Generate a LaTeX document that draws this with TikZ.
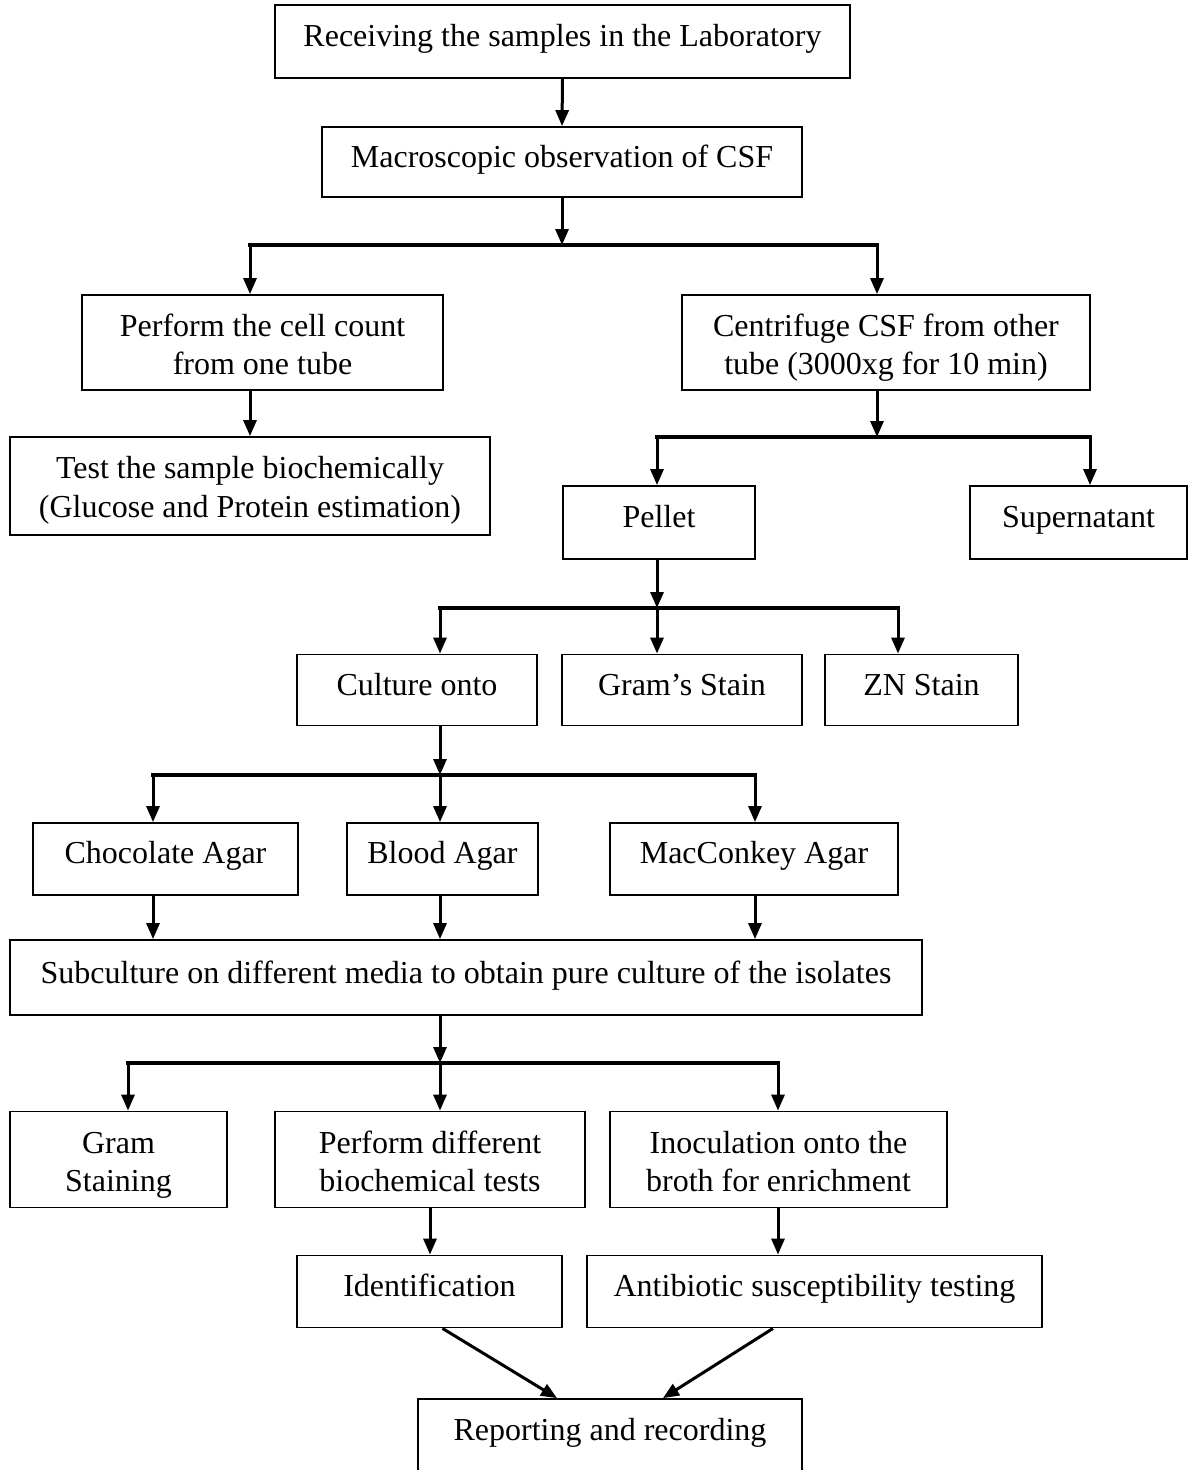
\documentclass[tikz,border=0pt]{standalone}
\usepackage{fontspec}
\setmainfont{Liberation Serif}
\usetikzlibrary{arrows.meta}
\begin{document}
\begin{tikzpicture}[x=1pt,y=-1pt,
  box/.style={draw, line width=1.8pt, align=center, inner sep=0pt,
    font=\fontsize{32}{38.5}\selectfont},
  arr/.style={line width=3pt, -{Triangle[length=16pt,width=13pt]}},
  bar/.style={line width=4.2pt, line cap=rect}]
\useasboundingbox (0,0) rectangle (1189,1470);

% nodes
\node[box, minimum width=575pt, minimum height=73pt, text height=25pt, text depth=15pt] (recv) at (562.5,41.5) {Receiving the samples in the Laboratory};
\node[box, minimum width=480pt, minimum height=70pt, text height=25.5pt, text depth=14.5pt] (macro) at (562,162) {Macroscopic observation of CSF};
\node[box, minimum width=361pt, minimum height=95pt, text height=74pt, text depth=10pt] (cell) at (262.5,342.5) {Perform the cell count\\from one tube};
\node[box, minimum width=408pt, minimum height=95pt, text height=74pt, text depth=10pt] (centri) at (886,342.5) {Centrifuge CSF from other\\tube (3000xg for 10 min)};
\node[box, minimum width=480pt, minimum height=98pt, text height=72pt, text depth=10pt] (test) at (250,486) {Test the sample biochemically\\(Glucose and Protein estimation)};
\node[box, minimum width=192pt, minimum height=73pt, text height=24.6pt, text depth=15.4pt] (pellet) at (659,522.5) {Pellet};
\node[box, minimum width=217pt, minimum height=73pt, text height=24.6pt, text depth=15.4pt] (super) at (1078.5,522.5) {Supernatant};
\node[box, minimum width=240pt, minimum height=71pt, text height=25.6pt, text depth=14.4pt] (culture) at (417,690) {Culture onto};
\node[box, minimum width=240pt, minimum height=71pt, text height=25.6pt, text depth=14.4pt] (gram) at (682,690) {Gram’s Stain};
\node[box, minimum width=193pt, minimum height=71pt, text height=25.6pt, text depth=14.4pt] (zn) at (921.5,690) {ZN Stain};
\node[box, minimum width=265pt, minimum height=72pt, text height=24.5pt, text depth=15.5pt] (choc) at (165.5,859) {Chocolate Agar};
\node[box, minimum width=191pt, minimum height=72pt, text height=24.5pt, text depth=15.5pt] (blood) at (442.5,859) {Blood Agar};
\node[box, minimum width=288pt, minimum height=72pt, text height=24.5pt, text depth=15.5pt] (mac) at (754,859) {MacConkey Agar};
\node[box, minimum width=912pt, minimum height=75pt, text height=25.5pt, text depth=14.5pt] (sub) at (466,977.5) {Subculture on different media to obtain pure culture of the isolates};
\node[box, minimum width=217pt, minimum height=96pt, text height=74pt, text depth=10pt] (gramst) at (118.5,1159.5) {Gram\\Staining};
\node[box, minimum width=310pt, minimum height=96pt, text height=74pt, text depth=10pt] (perf) at (430,1159.5) {Perform different\\biochemical tests};
\node[box, minimum width=337pt, minimum height=96pt, text height=74pt, text depth=10pt] (inoc) at (778.5,1159.5) {Inoculation onto the\\broth for enrichment};
\node[box, minimum width=265pt, minimum height=72pt, text height=25pt, text depth=15pt] (ident) at (429.5,1291.5) {Identification};
\node[box, minimum width=455pt, minimum height=72pt, text height=25pt, text depth=15pt] (anti) at (814.5,1291.5) {Antibiotic susceptibility testing};
\node[box, minimum width=384pt, minimum height=76pt, text height=23pt, text depth=17pt] (report) at (610,1437) {Reporting and recording};

% branch coordinates
\coordinate (b1) at (562,245); \coordinate (b1l) at (250,245); \coordinate (b1r) at (877,245);
\coordinate (b2) at (877,437); \coordinate (b2l) at (657,437); \coordinate (b2r) at (1090,437);
\coordinate (b3) at (657,608); \coordinate (b3l) at (440,608); \coordinate (b3r) at (898,608);
\coordinate (b4) at (440,775); \coordinate (b4l) at (153,775); \coordinate (b4r) at (755,775);
\coordinate (b5) at (440,1063); \coordinate (b5l) at (128,1063); \coordinate (b5r) at (778,1063);

% connectors
\draw[arr] (recv.south) -- (macro.north);
\draw[arr] (macro.south) -- (b1);
\draw[bar] (b1l) -- (b1r);
\draw[arr] (b1l) -- (b1l |- cell.north);
\draw[arr] (b1r) -- (b1r |- centri.north);
\draw[arr] (b1l |- cell.south) -- (b1l |- test.north);

\draw[arr] (b2 |- centri.south) -- (b2);
\draw[bar] (b2l) -- (b2r);
\draw[arr] (b2l) -- (b2l |- pellet.north);
\draw[arr] (b2r) -- (b2r |- super.north);

\draw[arr] (b3 |- pellet.south) -- (b3);
\draw[bar] (b3l) -- (b3r);
\draw[arr] (b3l) -- (b3l |- culture.north);
\draw[arr] (b3) -- (b3 |- gram.north);
\draw[arr] (b3r) -- (b3r |- zn.north);

\draw[arr] (b4 |- culture.south) -- (b4);
\draw[bar] (b4l) -- (b4r);
\draw[arr] (b4l) -- (b4l |- choc.north);
\draw[arr] (b4) -- (b4 |- blood.north);
\draw[arr] (b4r) -- (b4r |- mac.north);

\draw[arr] (b4l |- choc.south) -- (b4l |- sub.north);
\draw[arr] (b4 |- blood.south) -- (b4 |- sub.north);
\draw[arr] (b4r |- mac.south) -- (b4r |- sub.north);

\draw[arr] (b5 |- sub.south) -- (b5);
\draw[bar] (b5l) -- (b5r);
\draw[arr] (b5l) -- (b5l |- gramst.north);
\draw[arr] (b5) -- (b5 |- perf.north);
\draw[arr] (b5r) -- (b5r |- inoc.north);

\draw[arr] (perf.south) -- (perf.south |- ident.north);
\draw[arr] (b5r |- inoc.south) -- (b5r |- anti.north);

\draw[arr] ([xshift=13pt]ident.south) -- ([xshift=-53pt]report.north);
\draw[arr] ([xshift=-41.5pt]anti.south) -- ([xshift=53pt]report.north);
\end{tikzpicture}
\end{document}
